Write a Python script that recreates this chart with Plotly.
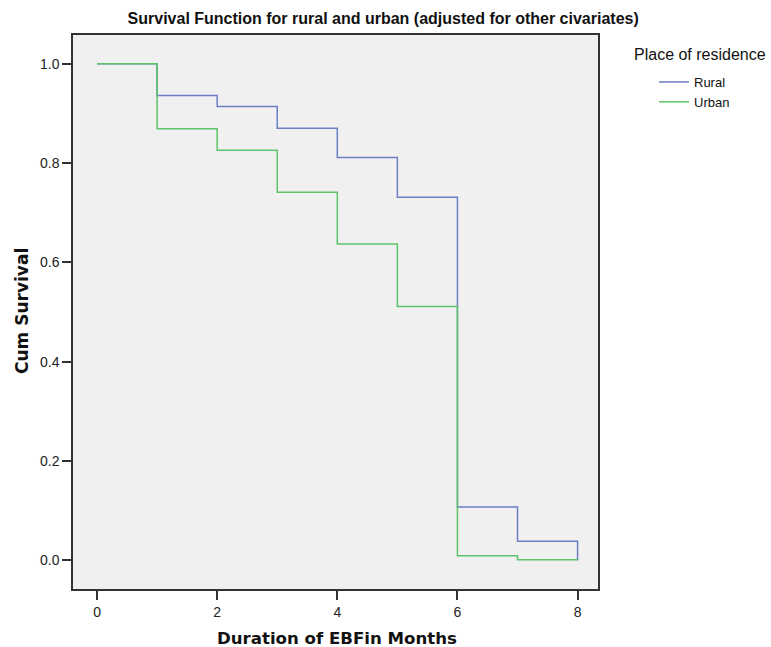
import plotly.graph_objects as go

months = [0, 1, 2, 3, 4, 5, 6, 7, 8]
rural = [1.0, 0.936, 0.914, 0.870, 0.811, 0.731, 0.107, 0.038, 0.0]
urban = [1.0, 0.869, 0.826, 0.741, 0.637, 0.511, 0.009, 0.001, 0.0]
x_ticks = [0, 2, 4, 6, 8]
y_ticks = [0.0, 0.2, 0.4, 0.6, 0.8, 1.0]
y_tick_labels = ["0.0", "0.2", "0.4", "0.6", "0.8", "1.0"]

fig = go.Figure()
fig.add_trace(go.Scatter(x=months, y=rural, mode="lines", name="Rural",
                         line=dict(color="#6a7fc6", width=1.5, shape="hv")))
fig.add_trace(go.Scatter(x=months, y=urban, mode="lines", name="Urban",
                         line=dict(color="#5cc468", width=1.5, shape="hv")))

axis_font = dict(family="Liberation Sans, Arial, sans-serif", size=14, color="#222")
fig.update_layout(
    width=771, height=647,
    margin=dict(l=73, r=173, t=35, b=58, autoexpand=False),
    paper_bgcolor="white",
    plot_bgcolor="#f0f0f0",
    title=dict(text="<b>Survival Function for rural and urban (adjusted for other civariates)</b>",
               x=0.497, xanchor="center", y=0.972, yanchor="middle",
               font=dict(family="Liberation Sans Narrow, Arial Narrow, sans-serif", size=16, color="#111")),
    legend=dict(x=(654 - 73) / 525, xanchor="left", y=(589 - 67) / 554, yanchor="top",
                font=dict(family="Liberation Sans, Arial", size=13, color="#111"),
                bgcolor="rgba(0,0,0,0)", tracegroupgap=0, itemwidth=30),
    showlegend=True,
    annotations=[
        dict(text="Place of residence", xref="paper", yref="paper",
             x=(700 - 73) / 525, y=(589 - 54) / 554, xanchor="center", yanchor="middle",
             showarrow=False, font=dict(family="Liberation Sans, Arial", size=16, color="#111")),
        dict(text="<b>Duration of EBFin Months</b>", xref="paper", yref="paper",
             x=(337 - 73) / 525, y=-(638 - 589) / 554, xanchor="center", yanchor="middle",
             showarrow=False, font=dict(family="DejaVu Sans, sans-serif", size=16.6, color="#111")),
        dict(text="<b>Cum Survival</b>", xref="paper", yref="paper",
             x=-(73 - 22) / 525, y=(589 - 311) / 554, xanchor="center", yanchor="middle",
             textangle=-90, showarrow=False, font=dict(family="DejaVu Sans, sans-serif", size=17, color="#111")),
    ],
)
fig.update_xaxes(range=[-0.40, 8.34], tickvals=x_ticks, ticks="outside", ticklen=9, tickwidth=2,
                 tickcolor="#333", showgrid=False, zeroline=False, showline=True, linecolor="#333",
                 linewidth=1.5, mirror=True, tickfont=axis_font, automargin=False)
fig.update_yaxes(range=[-0.058, 1.058], tickvals=y_ticks, ticktext=y_tick_labels, ticks="outside",
                 ticklen=9, tickwidth=2, tickcolor="#333", showgrid=False, zeroline=False,
                 showline=True, linecolor="#333", linewidth=1.5, mirror=True, tickfont=axis_font,
                 automargin=False)

fig.write_html("out.html", config={"displayModeBar": False},
               post_script="document.body.style.margin='0px';")
